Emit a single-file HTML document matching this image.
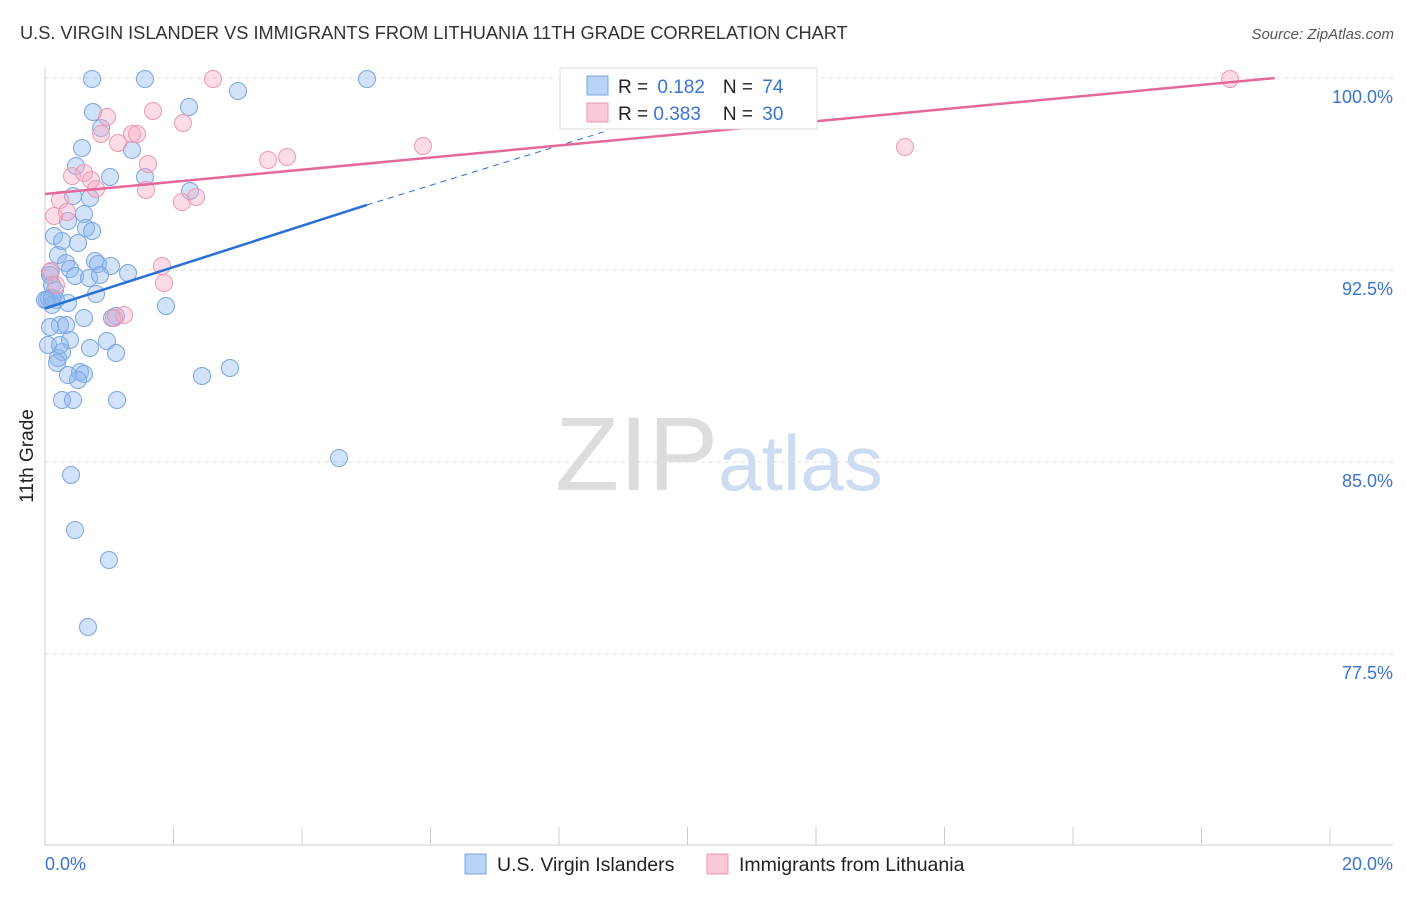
<!DOCTYPE html>
<html><head><meta charset="utf-8"><style>
body{margin:0;background:#fff;font-family:"Liberation Sans",sans-serif}
svg text{font-family:"Liberation Sans",sans-serif}
</style></head><body>
<svg width="1406" height="892">
<text x="20" y="39" font-size="18.2" fill="#333">U.S. VIRGIN ISLANDER VS IMMIGRANTS FROM LITHUANIA 11TH GRADE CORRELATION CHART</text>
<text x="1394" y="39" font-size="15" fill="#555" text-anchor="end" font-style="italic">Source: ZipAtlas.com</text>
<g id="grid"></g>
<text x="555" y="490" font-size="105" fill="#ddd" font-family="Liberation Serif">ZIP</text>
<text x="718" y="490" font-size="78" fill="#cddcf0">atlas</text>
<line x1="45" y1="68" x2="45" y2="845" stroke="#ccc"/>
<line x1="45" y1="845" x2="1393" y2="845" stroke="#ccc"/>
<text x="33" y="456" font-size="19" fill="#222" transform="rotate(-90 33 456)" text-anchor="middle">11th Grade</text>
<text x="45" y="870" font-size="18" fill="#3a74d0">0.0%</text>
<text x="1393" y="870" font-size="18" fill="#3a74d0" text-anchor="end">20.0%</text>
<g id="pts"></g>
<g id="lines"></g>
<rect x="560" y="68" width="257" height="61" fill="#fff" stroke="#ddd"/>
<rect x="587" y="76" width="21" height="19" fill="#b8d3f5" stroke="#7aa6e0"/>
<rect x="587" y="103" width="21" height="19" fill="#fbc8d6" stroke="#ec98b0"/>
<text x="618" y="93" font-size="19" fill="#222">R = <tspan fill="#3a74d0" dx="4">0.182</tspan><tspan dx="18">N = </tspan><tspan fill="#3a74d0" dx="4">74</tspan></text>
<text x="618" y="120" font-size="19" fill="#222">R = <tspan fill="#3a74d0">0.383</tspan><tspan dx="22">N = </tspan><tspan fill="#3a74d0" dx="4">30</tspan></text>
<rect x="465" y="854" width="21" height="20" fill="#b8d3f5" stroke="#7aa6e0"/>
<text x="497" y="871" font-size="19.5" fill="#222">U.S. Virgin Islanders</text>
<rect x="707" y="854" width="21" height="20" fill="#fbc8d6" stroke="#ec98b0"/>
<text x="739" y="871" font-size="19.5" fill="#222">Immigrants from Lithuania</text>
</svg>
<script>
const yTicks=[100,92.5,85,77.5];
const xTicks=[0,2,4,6,8,10,12,14,16,18,20];
const bluePx=[[92,79],[145,79],[367,79],[238,91],[93,112],[189,107],[101,128],[132,150],[82,148],[76,166],[110,177],[145,177],[190,191],[73,196],[90,198],[84,214],[68,221],[86,228],[92,231],[54,236],[62,241],[78,243],[58,255],[95,261],[66,263],[98,264],[111,266],[70,269],[50,272],[128,273],[75,276],[89,278],[100,275],[52,285],[55,290],[96,294],[49,299],[56,300],[68,303],[166,306],[84,318],[116,316],[112,318],[60,325],[66,325],[50,327],[70,340],[107,341],[48,345],[90,348],[62,352],[116,353],[58,358],[57,363],[80,372],[84,374],[68,375],[78,380],[202,376],[230,368],[62,400],[73,400],[117,400],[339,458],[71,475],[75,530],[109,560],[88,627],[47,300],[52,305],[60,345],[50,275],[45,300],[52,298]];
const pinkPx=[[213,79],[1230,79],[107,117],[153,111],[183,123],[132,134],[137,134],[101,134],[118,143],[148,164],[268,160],[287,157],[423,146],[905,147],[72,176],[84,173],[91,180],[96,189],[146,190],[182,202],[196,197],[60,200],[54,216],[67,212],[51,271],[56,285],[162,266],[164,283],[124,315],[114,318]];
const blueX=bluePx.map(p=>+((p[0]-45)/64.25).toFixed(3));
const blueY=bluePx.map(p=>+(100-(p[1]-78)/25.6).toFixed(3));
const pinkX=pinkPx.map(p=>+((p[0]-45)/64.25).toFixed(3));
const pinkY=pinkPx.map(p=>+(100-(p[1]-78)/25.6).toFixed(3));
const blueTrend=[[0,91.0],[5.01,95.04],[8.7,97.9]];
const pinkTrend=[[0,95.47],[19.14,100]];
const sx=v=>45+v*64.25, sy=v=>78+(100-v)*25.6;
const NS="http://www.w3.org/2000/svg";
function mk(t,a,p){const e=document.createElementNS(NS,t);for(const k in a)e.setAttribute(k,a[k]);p.appendChild(e);return e;}
const g=document.getElementById('grid');
yTicks.forEach(v=>{const l=mk('line',{x1:45,x2:1393,y1:sy(v),y2:sy(v),stroke:'#ddd','stroke-dasharray':'4 4'},g);


const t=mk('text',{x:1393,y:sy(v)+25,'font-size':18,fill:'#3a74d0','text-anchor':'end'},g);t.textContent=v.toFixed(1)+'%';

});
xTicks.forEach(v=>{const l=mk('line',{x1:sx(v),x2:sx(v),y1:827,y2:845,stroke:'#ccc'},g);

});
const pg=document.getElementById('pts');
blueX.forEach((x,i)=>{const c=mk('circle',{cx:sx(x),cy:sy(blueY[i]),r:8.5,fill:'rgba(140,182,240,0.4)',stroke:'#7aa6e0','stroke-width':1},pg);

});
pinkX.forEach((x,i)=>{const c=mk('circle',{cx:sx(x),cy:sy(pinkY[i]),r:8.5,fill:'rgba(248,170,195,0.4)',stroke:'#ec98b0','stroke-width':1},pg);

});
const lg=document.getElementById('lines');
let l1=mk('line',{x1:sx(blueTrend[0][0]),y1:sy(blueTrend[0][1]),x2:sx(blueTrend[1][0]),y2:sy(blueTrend[1][1]),stroke:'#2a6fd6','stroke-width':2.5},lg);


let l2=mk('line',{x1:sx(blueTrend[1][0]),y1:sy(blueTrend[1][1]),x2:sx(blueTrend[2][0]),y2:sy(blueTrend[2][1]),stroke:'#2a6fd6','stroke-width':1,'stroke-dasharray':'6 5'},lg);


let l3=mk('line',{x1:sx(pinkTrend[0][0]),y1:sy(pinkTrend[0][1]),x2:sx(pinkTrend[1][0]),y2:sy(pinkTrend[1][1]),stroke:'#e4689a','stroke-width':2.5},lg);


</script>
</body></html>
